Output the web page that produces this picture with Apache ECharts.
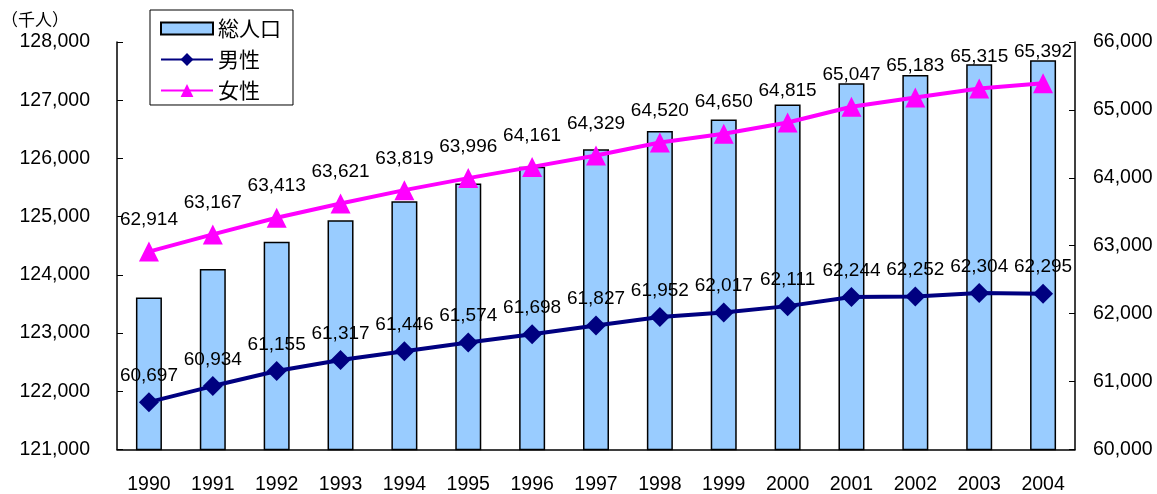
<!DOCTYPE html>
<html lang="ja">
<head>
<meta charset="UTF-8">
<title>人口推移</title>
<script src="https://cdn.jsdelivr.net/npm/echarts@6/dist/echarts.min.js"></script>
<style>
  html, body { margin: 0; padding: 0; background: #fff; }
  #main { width: 1157px; height: 494px; }
</style>
</head>
<body>
<div id="main"></div>
<script>
// データ（千人）
var years = ['1990','1991','1992','1993','1994','1995','1996','1997','1998','1999','2000','2001','2002','2003','2004'];
var totalPop = [123611,124101,124568,124938,125265,125570,125859,126156,126472,126667,126926,127291,127435,127619,127687];
var male = [60697,60934,61155,61317,61446,61574,61698,61827,61952,62017,62111,62244,62252,62304,62295];
var female = [62914,63167,63413,63621,63819,63996,64161,64329,64520,64650,64815,65047,65183,65315,65392];

var fontFam = '"Liberation Sans", Arial, "Noto Sans CJK JP", sans-serif';
function fmt(v) { return Number(v).toLocaleString('en-US'); }

var myChart = echarts.init(document.getElementById('main'));

var option = {
    animation: false,
    textStyle: { fontFamily: fontFam, color: '#000' },
    title: {
        text: '（千人）',
        left: -4,
        top: 6,
        textStyle: { fontSize: 17, fontWeight: 'normal', color: '#000', fontFamily: '"Noto Sans CJK JP", sans-serif' }
    },
    legend: {
        orient: 'vertical',
        left: 150,
        top: 10,
        padding: [8, 12, 4, 10],
        itemGap: 10,
        itemWidth: 52,
        itemHeight: 16,
        borderColor: '#000',
        borderWidth: 1,
        backgroundColor: '#fff',
        textStyle: { fontSize: 21, color: '#000', fontFamily: '"Noto Sans CJK JP", sans-serif' },
        data: [
            { name: '総人口', icon: 'path://M0,0H52V12H0Z' },
            '男性',
            '女性'
        ]
    },
    grid: { left: 117, right: 82, top: 42, bottom: 43 },
    xAxis: {
        type: 'category',
        data: years,
        axisLine: { lineStyle: { color: '#000', width: 1.5 } },
        axisTick: { inside: true, length: 6, lineStyle: { color: '#000' } },
        axisLabel: { fontSize: 19.5, color: '#000', margin: 25 }
    },
    yAxis: [
        {
            type: 'value',
            min: 121000,
            max: 128000,
            interval: 1000,
            splitLine: { show: false },
            axisLine: { show: true, lineStyle: { color: '#000', width: 1.5 } },
            axisTick: { show: true, inside: true, length: 6, lineStyle: { color: '#000' } },
            axisLabel: { fontSize: 19.5, color: '#000', margin: 27, formatter: fmt }
        },
        {
            type: 'value',
            min: 60000,
            max: 66000,
            interval: 1000,
            splitLine: { show: false },
            axisLine: { show: true, lineStyle: { color: '#000', width: 1.5 } },
            axisTick: { show: true, inside: true, length: 6, lineStyle: { color: '#000' } },
            axisLabel: { fontSize: 19.5, color: '#000', margin: 18, formatter: fmt }
        }
    ],
    series: [
        {
            name: '総人口',
            type: 'bar',
            yAxisIndex: 0,
            barWidth: 26,
            data: totalPop,
            itemStyle: { color: '#99CCFF', borderColor: '#000', borderWidth: 1.5 }
        },
        {
            name: '男性',
            type: 'line',
            yAxisIndex: 1,
            data: male,
            symbol: 'diamond',
            symbolSize: 20,
            lineStyle: { color: '#000080', width: 4 },
            itemStyle: { color: '#000080' },
            label: {
                show: true,
                position: 'top',
                distance: 7,
                fontSize: 19,
                color: '#000',
                formatter: function (p) { return fmt(p.value); }
            }
        },
        {
            name: '女性',
            type: 'line',
            yAxisIndex: 1,
            data: female,
            symbol: 'triangle',
            symbolSize: 20,
            lineStyle: { color: '#FF00FF', width: 4 },
            itemStyle: { color: '#FF00FF' },
            label: {
                show: true,
                position: 'top',
                distance: 12,
                fontSize: 19,
                color: '#000',
                formatter: function (p) { return fmt(p.value); }
            }
        }
    ]
};

myChart.setOption(option);
</script>
</body>
</html>
